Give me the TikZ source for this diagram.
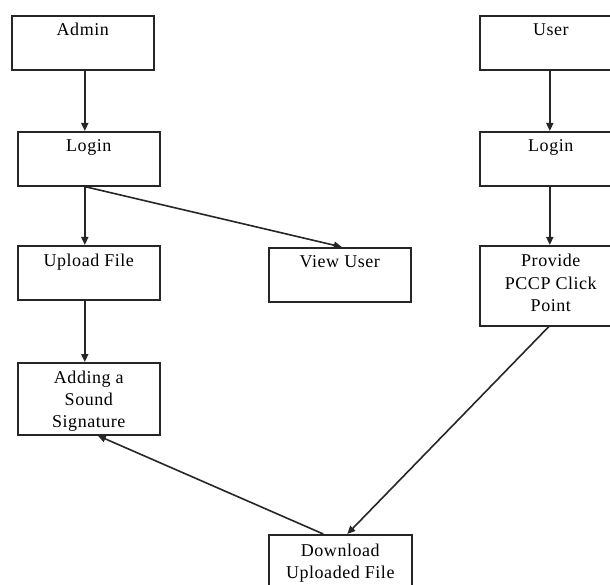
\documentclass[tikz,border=0pt]{standalone}
\usepackage{fontspec}
\setmainfont{Liberation Serif}
\usetikzlibrary{arrows.meta}
\begin{document}
\begin{tikzpicture}[x=1pt,y=-1pt,
  box/.style={draw=black!85,line width=1.6pt,minimum width=142pt,minimum height=54pt,inner sep=0pt,anchor=north west},
  txt/.style={font=\fontsize{18}{22}\selectfont\addfontfeatures{LetterSpace=3},align=center,anchor=base,inner sep=0pt,text=black},
  arr/.style={line width=1.6pt,draw=black!85,-{Triangle[length=8pt,width=7pt]}}]
\useasboundingbox (0,0) rectangle (610,585);
\clip (0,0) rectangle (610,585);
% boxes
\node[box] (admin) at (11,15) {};
\node[box] (alogin) at (17,131) {};
\node[box] (upload) at (17,245) {};
\node[box] (view) at (268,247) {};
\node[box,minimum height=72pt] (adding) at (17,362) {};
\node[box] (user) at (479,15) {};
\node[box] (ulogin) at (479,131) {};
\node[box,minimum height=80pt] (provide) at (479,245) {};
\node[box,minimum height=62pt,minimum width=143pt] (dl) at (268,534) {};
% texts (base anchor = last line)
\node[txt] (admint) at ([yshift=-21]admin.north) {Admin};
\node[txt] (alogint) at ([yshift=-21]alogin.north) {Login};
\node[txt] (uploadt) at ([yshift=-21]upload.north) {Upload File};
\node[txt] (viewt) at ([yshift=-21]view.north) {View User};
\node[txt] (addingt) at ([yshift=-65]adding.north) {Adding a\\Sound\\Signature};
\node[txt] (usert) at ([yshift=-21]user.north) {User};
\node[txt] (ulogint) at ([yshift=-21]ulogin.north) {Login};
\node[txt] (providet) at ([yshift=-66]provide.north) {Provide\\PCCP Click\\Point};
\node[txt] (dlt) at ([yshift=-44]dl.north) {Download\\Uploaded File};
% connectors
\draw[arr] ([xshift=2]admin.south) -- ([xshift=-4]alogin.north);
\draw[arr] ([xshift=-4]alogin.south) -- ([xshift=-4]upload.north);
\draw[arr] ([xshift=-4]alogin.south) -- ([xshift=2]view.north);
\draw[arr] ([xshift=-4]upload.south) -- ([xshift=-4]adding.north);
\draw[arr] ([xshift=-1]user.south) -- ([xshift=-1]ulogin.north);
\draw[arr] ([xshift=-1]ulogin.south) -- ([xshift=-1]provide.north);
\draw[arr] ([xshift=-2]provide.south) -- ([xshift=7]dl.north);
\draw[arr] ([xshift=-17]dl.north) -- ([xshift=9]adding.south);
\end{tikzpicture}
\end{document}
